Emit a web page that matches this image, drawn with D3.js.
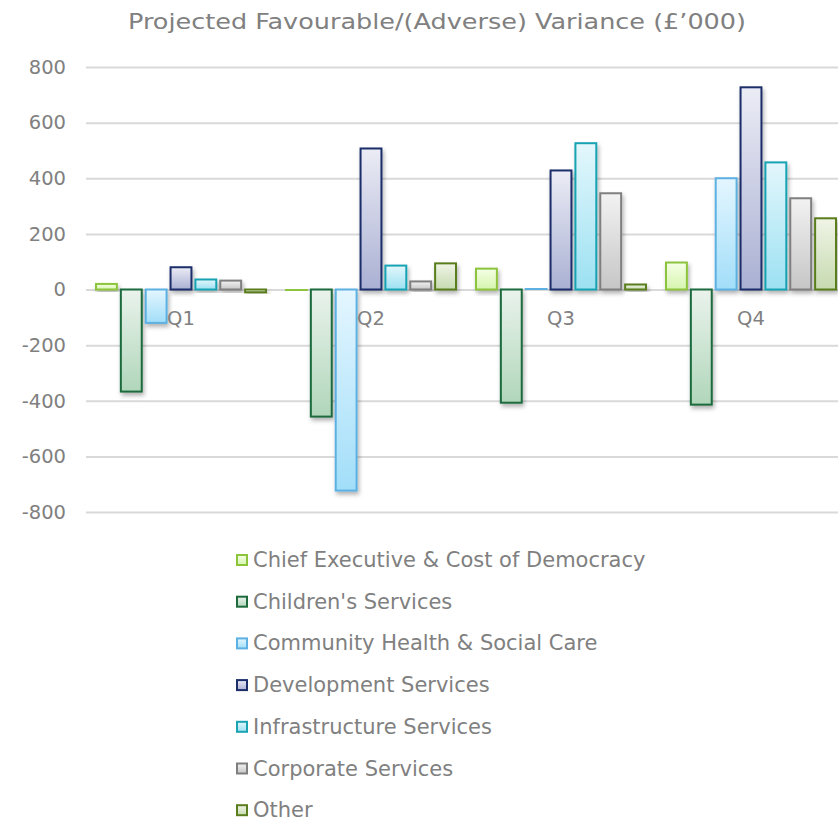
<!DOCTYPE html>
<html>
<head>
<meta charset="utf-8">
<script src="https://cdn.jsdelivr.net/npm/d3@7"></script>
<style>
  body { margin: 0; background: #fff; }
  svg { display: block; }
</style>
</head>
<body>
<div id="chart"></div>
<script>
// data
var quarters = ["Q1", "Q2", "Q3", "Q4"];
var services = ["Chief Executive & Cost of Democracy", "Children's Services",
    "Community Health & Social Care", "Development Services",
    "Infrastructure Services", "Corporate Services", "Other"];
var chiefExec   = [20, -3, 75, 97];
var childrens   = [-367, -457, -407, -414];
var community   = [-120, -723, 3, 400];
var development = [80, 507, 428, 727];
var infra       = [36, 86, 526, 457];
var corporate   = [32, 29, 346, 328];
var other       = [-10, 94, 18, 256];
var yTicks = [-800, -600, -400, -200, 0, 200, 400, 600, 800];

var seriesValues = [chiefExec, childrens, community, development, infra, corporate, other];

// stroke, gradient top, gradient bottom
var colours = [
    ["#8cc43c", "#f5ffe6", "#d6f5ae"],
    ["#1d6b3c", "#eaf3ec", "#b0d6ba"],
    ["#5cb0e2", "#e4f6ff", "#a2def9"],
    ["#1b2d6b", "#ebecf5", "#aab0d3"],
    ["#19a3b3", "#e3f7fc", "#9ce1f2"],
    ["#7f7f7f", "#f2f2f2", "#c6c6c6"],
    ["#5a7d1f", "#f0f4e6", "#c6dab0"]
];

var svgWidth = 838;
var svgHeight = 821;

var margin = { top: 67, left: 86 };
var plotWidth = 760;   // runs past the right edge like the original
var plotHeight = 445;

var svg = d3.select("#chart")
    .append("svg")
    .attr("width", svgWidth)
    .attr("height", svgHeight)
    .style("font-family", "'DejaVu Sans', Verdana, sans-serif");

var defs = svg.append("defs");

var shadow = defs.append("filter")
    .attr("id", "shadow")
    .attr("x", "-30%").attr("y", "-30%")
    .attr("width", "160%").attr("height", "160%");
shadow.append("feDropShadow")
    .attr("dx", 1.5).attr("dy", 3)
    .attr("stdDeviation", 2)
    .attr("flood-color", "#000")
    .attr("flood-opacity", 0.3);

colours.forEach(function(c, i) {
    var g = defs.append("linearGradient")
        .attr("id", "grad" + i)
        .attr("x1", 0).attr("y1", 0).attr("x2", 0).attr("y2", 1);
    g.append("stop").attr("offset", "0%").attr("stop-color", c[1]);
    g.append("stop").attr("offset", "100%").attr("stop-color", c[2]);
});

// title
svg.append("text")
    .attr("x", 437)
    .attr("y", 29)
    .attr("text-anchor", "middle")
    .attr("fill", "#808080")
    .attr("textLength", 618)
    .attr("lengthAdjust", "spacingAndGlyphs")
    .style("font-size", "21px")
    .text("Projected Favourable/(Adverse) Variance (£\u2019000)");

var chartGroup = svg.append("g")
    .attr("transform", `translate(${margin.left}, ${margin.top})`);

var yScale = d3.scaleLinear()
    .domain([-800, 800])
    .range([plotHeight, 0]);

var xScale = d3.scaleBand()
    .domain(quarters)
    .range([0, plotWidth]);

var xInner = d3.scaleBand()
    .domain(d3.range(services.length))
    .range([10, xScale.bandwidth() - 10])
    .paddingInner(0.16);

// gridlines + tick labels
var leftAxis = d3.axisLeft(yScale)
    .tickValues(yTicks)
    .tickFormat(d => String(d))
    .tickSize(-plotWidth)
    .tickPadding(20);

var yAxis = chartGroup.append("g").call(leftAxis);
yAxis.select(".domain").remove();
yAxis.selectAll(".tick line")
    .attr("stroke", "#d9d9d9")
    .attr("stroke-width", 2);
yAxis.selectAll(".tick text")
    .attr("fill", "#808080")
    .style("font-size", "19.5px")
    .style("font-family", "'DejaVu Sans', Verdana, sans-serif");

// bars
seriesValues.forEach(function(vals, s) {
    chartGroup.append("g")
        .selectAll("rect")
        .data(vals)
        .enter()
        .append("rect")
        .attr("x", (d, i) => xScale(quarters[i]) + xInner(s))
        .attr("y", d => yScale(Math.max(d, 0)))
        .attr("width", xInner.bandwidth())
        .attr("height", d => Math.abs(yScale(d) - yScale(0)))
        .attr("fill", "url(#grad" + s + ")")
        .attr("stroke", colours[s][0])
        .attr("stroke-width", 2)
        .attr("filter", "url(#shadow)");
});

// category labels sit just under the zero line
chartGroup.append("g")
    .selectAll("text")
    .data(quarters)
    .enter()
    .append("text")
    .attr("x", d => xScale(d) + xScale.bandwidth() / 2)
    .attr("y", yScale(0) + 35)
    .attr("text-anchor", "middle")
    .attr("fill", "#808080")
    .style("font-size", "19.5px")
    .text(d => d);

// legend
var legend = svg.append("g")
    .attr("transform", "translate(236, 560)");

var items = legend.selectAll("g")
    .data(services)
    .enter()
    .append("g")
    .attr("transform", (d, i) => `translate(0, ${i * 41.7})`);

items.append("rect")
    .attr("x", 1)
    .attr("y", -5)
    .attr("width", 10)
    .attr("height", 10)
    .attr("fill", (d, i) => "url(#grad" + i + ")")
    .attr("stroke", (d, i) => colours[i][0])
    .attr("stroke-width", 2);

items.append("text")
    .attr("x", 17)
    .attr("y", 7)
    .attr("fill", "#808080")
    .style("font-size", "21px")
    .text(d => d);
</script>
</body>
</html>
